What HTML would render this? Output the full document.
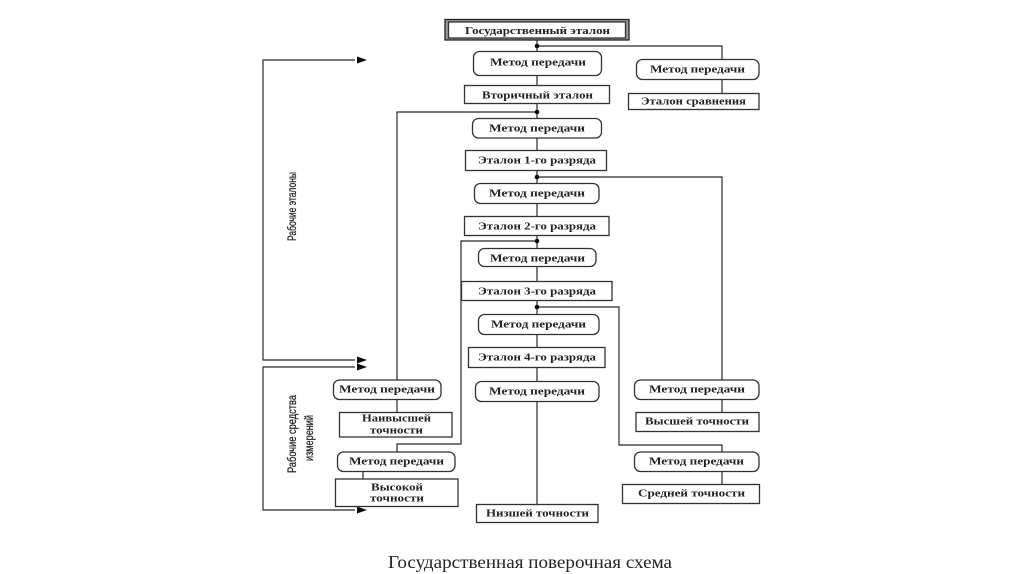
<!DOCTYPE html>
<html lang="ru">
<head>
<meta charset="utf-8">
<title>Государственная поверочная схема</title>
<style>
html,body{margin:0;padding:0;background:#fff;width:1024px;height:574px;overflow:hidden}
svg{display:block}
.l{fill:none;stroke:#2a2a2a;stroke-width:1.2}
.b{fill:#fff;stroke:#333;stroke-width:1.3}
.t{font-family:"Liberation Serif",serif;font-weight:bold;font-size:11px;fill:#222}
.r{font-family:"Liberation Sans",sans-serif;font-size:12px;fill:#222;stroke:#222;stroke-width:.25}
.c{font-family:"Liberation Serif",serif;font-size:18px;fill:#222}
</style>
</head>
<body>
<svg width="1024" height="574" viewBox="0 0 1024 574" xmlns="http://www.w3.org/2000/svg">
<defs><filter id="s" x="-5%" y="-5%" width="110%" height="110%"><feGaussianBlur stdDeviation="0.35"/></filter></defs>
<g filter="url(#s)">
<!-- connectors -->
<path class="l" d="M537 40V504"/>
<path class="l" d="M537 46H722V59M722 79V93"/>
<path class="l" d="M537 112H397V380M397 399V412"/>
<path class="l" d="M537 177H722V380M722 399V412"/>
<path class="l" d="M537 241H461V444H397V452M363 471V479"/>
<path class="l" d="M537 307H619V445H722V452M722 471V484"/>
<path class="l" d="M355 60H263V360H355"/>
<path class="l" d="M355 367H263V510H355"/>
<g fill="#111">
<path d="M357 56.500L367 60L357 63.500Z"/>
<path d="M357 356.500L367 360L357 363.500Z"/>
<path d="M357 363.500L367 367L357 370.500Z"/>
<path d="M357 506.500L367 510L357 513.500Z"/>
<circle cx="537" cy="46" r="2.300"/>
<circle cx="537" cy="112" r="2.300"/>
<circle cx="537" cy="177" r="2.300"/>
<circle cx="537" cy="241" r="2.300"/>
<circle cx="537" cy="307" r="2.300"/>
</g>
<!-- top double box -->
<rect x="445" y="19.500" width="184" height="20.500" fill="#9a9a9a" stroke="#222" stroke-width="1.300"/>
<rect x="448.500" y="22" width="177" height="16" fill="#fff" stroke="#333" stroke-width="1.300"/>
<!-- centre column -->
<rect class="b" x="473.500" y="51.500" width="128" height="24" rx="6"/>
<rect class="b" x="464.500" y="85.500" width="145" height="18"/>
<rect class="b" x="472.500" y="118.500" width="129" height="19.500" rx="6"/>
<rect class="b" x="465.500" y="150.500" width="141" height="20"/>
<rect class="b" x="474.500" y="183.500" width="124.500" height="20" rx="6"/>
<rect class="b" x="464.500" y="216.500" width="144.500" height="19"/>
<rect class="b" x="478.500" y="248.500" width="117.500" height="18" rx="6"/>
<rect class="b" x="461.500" y="281.500" width="150.500" height="19"/>
<rect class="b" x="478.500" y="314.500" width="120.500" height="20" rx="6"/>
<rect class="b" x="468.500" y="347.500" width="136.500" height="20"/>
<rect class="b" x="475.500" y="381.500" width="123.500" height="20" rx="6"/>
<rect class="b" x="476.500" y="504.500" width="121.500" height="18"/>
<!-- right column -->
<rect class="b" x="636.500" y="59.500" width="122.500" height="20" rx="6"/>
<rect class="b" x="628.500" y="93.500" width="130.500" height="16"/>
<rect class="b" x="634.500" y="380" width="124.500" height="19.500" rx="6"/>
<rect class="b" x="636" y="412.500" width="123" height="19"/>
<rect class="b" x="634.500" y="452" width="124.500" height="19.500" rx="6"/>
<rect class="b" x="622.500" y="484.500" width="137" height="19"/>
<!-- left column -->
<rect class="b" x="333.500" y="380" width="107.500" height="19.500" rx="6"/>
<rect class="b" x="339.500" y="412.500" width="112.500" height="24.500"/>
<rect class="b" x="337.500" y="452" width="117.500" height="19.500" rx="6"/>
<rect class="b" x="335.500" y="479" width="122.500" height="27.500"/>
<!-- labels -->
<text class="t" x="465" y="34" textLength="145" lengthAdjust="spacingAndGlyphs">Государственный эталон</text>
<text class="t" x="490" y="65.500" textLength="96" lengthAdjust="spacingAndGlyphs">Метод передачи</text>
<text class="t" x="482" y="98.500" textLength="111" lengthAdjust="spacingAndGlyphs">Вторичный эталон</text>
<text class="t" x="489" y="131.500" textLength="96" lengthAdjust="spacingAndGlyphs">Метод передачи</text>
<text class="t" x="478" y="163.500" textLength="118" lengthAdjust="spacingAndGlyphs">Эталон 1-го разряда</text>
<text class="t" x="489" y="196.500" textLength="96" lengthAdjust="spacingAndGlyphs">Метод передачи</text>
<text class="t" x="478" y="229.500" textLength="118" lengthAdjust="spacingAndGlyphs">Эталон 2-го разряда</text>
<text class="t" x="490" y="261.500" textLength="95" lengthAdjust="spacingAndGlyphs">Метод передачи</text>
<text class="t" x="478" y="294.500" textLength="118" lengthAdjust="spacingAndGlyphs">Эталон 3-го разряда</text>
<text class="t" x="491" y="327.500" textLength="95" lengthAdjust="spacingAndGlyphs">Метод передачи</text>
<text class="t" x="478" y="360.500" textLength="118" lengthAdjust="spacingAndGlyphs">Эталон 4-го разряда</text>
<text class="t" x="489" y="394.500" textLength="96" lengthAdjust="spacingAndGlyphs">Метод передачи</text>
<text class="t" x="486" y="516.500" textLength="103" lengthAdjust="spacingAndGlyphs">Низшей точности</text>
<text class="t" x="650" y="72.500" textLength="95" lengthAdjust="spacingAndGlyphs">Метод передачи</text>
<text class="t" x="641" y="104.500" textLength="105" lengthAdjust="spacingAndGlyphs">Эталон сравнения</text>
<text class="t" x="649" y="392.500" textLength="96" lengthAdjust="spacingAndGlyphs">Метод передачи</text>
<text class="t" x="645" y="424.500" textLength="104" lengthAdjust="spacingAndGlyphs">Высшей точности</text>
<text class="t" x="649" y="464.500" textLength="95" lengthAdjust="spacingAndGlyphs">Метод передачи</text>
<text class="t" x="638" y="496.500" textLength="107" lengthAdjust="spacingAndGlyphs">Средней точности</text>
<text class="t" x="339" y="392.500" textLength="96" lengthAdjust="spacingAndGlyphs">Метод передачи</text>
<text class="t" x="362" y="421.500" textLength="69" lengthAdjust="spacingAndGlyphs">Наивысшей</text>
<text class="t" x="370" y="433.500" textLength="53" lengthAdjust="spacingAndGlyphs">точности</text>
<text class="t" x="349" y="464.500" textLength="95" lengthAdjust="spacingAndGlyphs">Метод передачи</text>
<text class="t" x="371" y="490.500" textLength="52" lengthAdjust="spacingAndGlyphs">Высокой</text>
<text class="t" x="370" y="501.500" textLength="54" lengthAdjust="spacingAndGlyphs">точности</text>
<!-- rotated labels -->
<text class="r" transform="translate(296 241) rotate(-90)" textLength="69" lengthAdjust="spacingAndGlyphs">Рабочие эталоны</text>
<text class="r" transform="translate(296 473) rotate(-90)" textLength="78" lengthAdjust="spacingAndGlyphs">Рабочие средства</text>
<text class="r" transform="translate(313 461) rotate(-90)" textLength="46" lengthAdjust="spacingAndGlyphs">измерений</text>
<!-- caption -->
<text class="c" x="388" y="568" textLength="284" lengthAdjust="spacingAndGlyphs">Государственная поверочная схема</text>
</g>
</svg>
</body>
</html>
